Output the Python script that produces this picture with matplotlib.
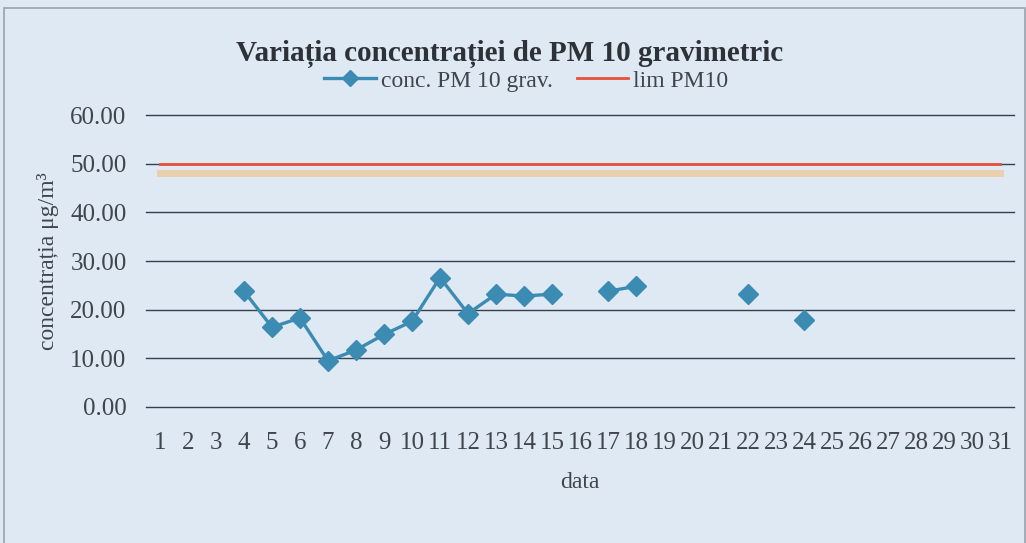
import numpy as np
import matplotlib.pyplot as plt
import matplotlib.patheffects as pe
from matplotlib.patches import Rectangle

# Days of the month and measured PM10 gravimetric concentration (ug/m3).
days = list(range(1, 32))
nan = np.nan
conc_pm10 = [nan, nan, nan, 23.8, 16.4, 18.3, 9.5, 11.7, 14.9, 17.6,
             26.6, 19.2, 23.2, 22.8, 23.2, nan, 23.8, 24.8, nan, nan,
             nan, 23.3, nan, 17.9, nan, nan, nan, nan, nan, nan, nan]
lim_pm10 = [50.0] * 31

title = "Variația concentrației de PM 10 gravimetric"
series_labels = ["conc. PM 10 grav.", "lim PM10"]
y_ticks = [0, 10, 20, 30, 40, 50, 60]

plt.rcParams['font.family'] = ['Liberation Serif', 'DejaVu Serif']
bg = '#dfe9f4'
text_col = '#40454c'

fig = plt.figure(figsize=(10.26, 5.43), dpi=100, facecolor=bg)
ax = fig.add_axes([0.1423, 0.2505, 0.8460, 0.5375])
ax.set_facecolor(bg)

# Chart frame (edge of the scanned chart area).
fig.patches.append(Rectangle((0.004, -0.01), 0.995, 1 - 8 / 543 + 0.01,
                             transform=fig.transFigure, fill=False,
                             edgecolor='#9aa3ad', linewidth=1.2))

# Horizontal gridlines.
ax.set_ylim(0, 60)
ax.set_yticks(y_ticks)
ax.yaxis.grid(True, color='#34404c', linewidth=1.0)
ax.set_axisbelow(True)
for gl in ax.get_ygridlines():
    gl.set_clip_on(False)

# Orange smear of the scan just below the limit line (not in legend).
ax.plot(days, lim_pm10, color='#e8503a', linewidth=2.0,
        path_effects=[pe.SimpleLineShadow(offset=(0, -7), shadow_color='#f5b868',
                                          alpha=0.5, linewidth=5)],
        label='_nolegend_')

# Concentration series.
ax.plot(days, conc_pm10, color='#3b8bb2', linewidth=2.4, marker='D',
        markersize=10, markerfacecolor='#3b8bb2', markeredgecolor='#3b8bb2',
        label=series_labels[0], zorder=4)

# Limit line.
ax.plot(days, lim_pm10, color='#e8503a', linewidth=2.0, label=series_labels[1])

ax.set_xlim(0.5, 31.5)
ax.set_xticks(days)
ax.set_xticklabels([str(d) for d in days])
ax.yaxis.set_major_formatter(plt.FormatStrFormatter('%.2f'))

for s in ax.spines.values():
    s.set_visible(False)
ax.tick_params(axis='both', length=0, labelsize=18, colors=text_col)
ax.tick_params(axis='x', pad=18)
ax.tick_params(axis='y', pad=14)

ax.set_xlabel("data", fontsize=17, color=text_col, labelpad=13)
ax.set_ylabel("concentrația μg/m³", fontsize=17, color=text_col, labelpad=8)

fig.text(0.497, 0.9, title, ha='center', va='center', fontsize=21,
         fontweight='bold', color='#2e3238')

fig.legend(loc='center', bbox_to_anchor=(0.513, 0.851), ncol=2, frameon=False,
           fontsize=17, handlelength=2.2, columnspacing=1.0, handletextpad=0.2,
           markerscale=0.8, labelcolor=text_col)

fig.savefig('out.png', dpi=100, facecolor=bg)
